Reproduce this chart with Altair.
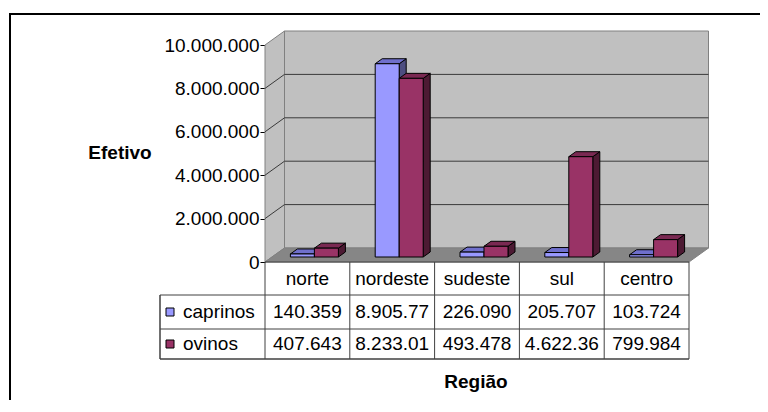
import altair as alt
import pandas as pd

# ---- data ----
regioes = ["norte", "nordeste", "sudeste", "sul", "centro"]
caprinos = [140359, 8905770, 226090, 205707, 103724]
ovinos = [407643, 8233010, 493478, 4622360, 799984]
caprinos_txt = ["140.359", "8.905.77", "226.090", "205.707", "103.724"]
ovinos_txt = ["407.643", "8.233.01", "493.478", "4.622.36", "799.984"]
y_ticks = [0, 2000000, 4000000, 6000000, 8000000, 10000000]
series = ["caprinos", "ovinos"]

# ---- geometry / style ----
FONT = "Liberation Sans"
FS = 19
N = len(regioes)
W, H = 424, 217
YMAX = 10000000
PXX = N / W
PXY = YMAX / H
WDX, WDY = 19.5 * PXX, 14 * PXY     # wall depth
OX, OY = 7 * PXX, 5 * PXY           # bar front-plane offset
BDX, BDY = 7 * PXX, 5 * PXY         # bar depth
BW = 24 * PXX                       # bar width

COLORS = {
    "caprinos": {"front": "#9999ff", "top": "#6f6fcc", "side": "#4d4d80"},
    "ovinos": {"front": "#993366", "top": "#7a2952", "side": "#4d1a33"},
}

xs = alt.Scale(domain=[0, N], nice=False, zero=False)
ys = alt.Scale(domain=[0, YMAX], nice=False, zero=False)
YAXIS = alt.Axis(
    values=y_ticks, labelExpr="replace(format(datum.value, ','), /,/g, '.')",
    tickSize=5, tickColor="black", domainColor="black", domainWidth=1,
    labelFont=FONT, labelFontSize=FS, labelColor="black", labelPadding=1,
    title=None, grid=False)


def X(f):
    return alt.X(f, type="quantitative", scale=xs, axis=None)


def Y(f):
    return alt.Y(f, type="quantitative", scale=ys, axis=YAXIS)


# ---- bars & 3D faces ----
bars, faces = [], []
for si, (s, vals) in enumerate(zip(series, [caprinos, ovinos])):
    for i, (r, v) in enumerate(zip(regioes, vals)):
        L = i + 0.5 + OX - BW + si * BW
        R = L + BW
        B = OY
        T = OY + v
        bars.append(dict(serie=s, regiao=r, x=L, x2=R, y=B, y2=T))
        top = [(L, T), (R, T), (R + BDX, T + BDY), (L + BDX, T + BDY)]
        side = [(R, B), (R + BDX, B + BDY), (R + BDX, T + BDY), (R, T)]
        for face, pts in (("top", top), ("side", side)):
            for k, (px, py) in enumerate(pts):
                faces.append(dict(serie=s, face=face, id=f"{s}-{i}-{face}", k=k, x=px, y=py))
bars_df = pd.DataFrame(bars)
faces_df = pd.DataFrame(faces)

# ---- walls ----
back_df = pd.DataFrame([dict(x=WDX, x2=N + WDX, y=WDY, y2=YMAX + WDY)])
leftwall_df = pd.DataFrame([
    dict(id="lw", k=0, x=0, y=0), dict(id="lw", k=1, x=0, y=YMAX),
    dict(id="lw", k=2, x=WDX, y=YMAX + WDY), dict(id="lw", k=3, x=WDX, y=WDY)])
floor_df = pd.DataFrame([
    dict(id="fl", k=0, x=0, y=0), dict(id="fl", k=1, x=N, y=0),
    dict(id="fl", k=2, x=N + WDX, y=WDY), dict(id="fl", k=3, x=WDX, y=WDY)])
grid_df = pd.DataFrame([dict(v=v) for v in y_ticks[1:-1]])

back = alt.Chart(back_df).mark_rect(fill="#c0c0c0", stroke="#808080", strokeWidth=1).encode(
    x=X("x"), x2="x2", y=Y("y"), y2="y2")

leftwall = alt.Chart(leftwall_df).mark_line(
    fill="#c0c0c0", stroke="#808080", strokeWidth=1, interpolate="linear-closed").encode(
    x=X("x"), y=Y("y"), detail="id:N", order="k:O")
floor = alt.Chart(floor_df).mark_line(
    fill="#868686", stroke="#808080", strokeWidth=1, interpolate="linear-closed").encode(
    x=X("x"), y=Y("y"), detail="id:N", order="k:O")

grid_back = alt.Chart(grid_df).transform_calculate(
    x0=f"{WDX}", x1=f"{N + WDX}", yy=f"datum.v + {WDY}").mark_rule(
    color="#3a3a3a", strokeWidth=1).encode(x=X("x0"), x2="x1", y=Y("yy"))
grid_side = alt.Chart(grid_df).transform_calculate(
    x0="0", x1=f"{WDX}", yy=f"datum.v + {WDY}").mark_rule(
    color="#3a3a3a", strokeWidth=1).encode(x=X("x0"), x2="x1", y=Y("v"), y2="yy")

bar_layers = []
for s in series:
    c = COLORS[s]
    for face in ("side", "top"):
        bar_layers.append(
            alt.Chart(faces_df).transform_filter(
                f"datum.serie == '{s}' && datum.face == '{face}'").mark_line(
                fill=c[face], stroke="black", strokeWidth=1, interpolate="linear-closed",
                strokeJoin="miter").encode(x=X("x"), y=Y("y"), detail="id:N", order="k:O"))
    bar_layers.append(
        alt.Chart(bars_df).transform_filter(f"datum.serie == '{s}'").mark_rect(
            fill=c["front"], stroke="black", strokeWidth=1).encode(
            x=X("x"), x2="x2", y=Y("y"), y2="y2"))

# ---- data table ----
tab_df = pd.DataFrame(dict(regiao=regioes, c=caprinos_txt, o=ovinos_txt,
                           pos=[i + 0.5 for i in range(N)]))
row_hdr, row_c, row_o = 233.5, 267, 299
txt = dict(font=FONT, fontSize=FS, color="black", baseline="middle")
hdr = alt.Chart(tab_df).mark_text(align="center", **txt).encode(
    x=X("pos"), y=alt.value(row_hdr), text="regiao:N")
vc = alt.Chart(tab_df).mark_text(align="center", **txt).encode(
    x=X("pos"), y=alt.value(row_c), text="c:N")
vo = alt.Chart(tab_df).mark_text(align="center", **txt).encode(
    x=X("pos"), y=alt.value(row_o), text="o:N")

one = pd.DataFrame([dict(a=1)])
legend_layers = []
for s, ry in zip(series, [row_c, row_o]):
    legend_layers.append(
        alt.Chart(one).mark_rect(fill=COLORS[s]["front"], stroke="black", strokeWidth=1).encode(
            x=alt.value(-99), x2=alt.value(-91), y=alt.value(ry - 4), y2=alt.value(ry + 4)))
    legend_layers.append(
        alt.Chart(one).mark_text(align="left", text=s, **txt).encode(
            x=alt.value(-82), y=alt.value(ry)))

LC = "#404040"
hlines = [
    alt.Chart(one).mark_rule(color=LC, strokeWidth=1).encode(
        x=alt.value(0), x2=alt.value(W), y=alt.value(217)),
    alt.Chart(one).mark_rule(color=LC, strokeWidth=1).encode(
        x=alt.value(-105), x2=alt.value(W), y=alt.value(250)),
    alt.Chart(one).mark_rule(color=LC, strokeWidth=1).encode(
        x=alt.value(-105), x2=alt.value(W), y=alt.value(284)),
    alt.Chart(one).mark_rule(color=LC, strokeWidth=1.5).encode(
        x=alt.value(-105), x2=alt.value(W), y=alt.value(314)),
    alt.Chart(one).mark_rule(color=LC, strokeWidth=1.5).encode(
        x=alt.value(-105), y=alt.value(250), y2=alt.value(314)),
]
vl_df = pd.DataFrame(dict(b=list(range(N + 1))))
vlines = alt.Chart(vl_df).mark_rule(color=LC, strokeWidth=1).encode(
    x=X("b"), y=alt.value(217), y2=alt.value(314))

ytitle = alt.Chart(one).mark_text(font=FONT, fontSize=FS, fontWeight="bold", color="black",
                                  align="center", baseline="middle", text="Efetivo").encode(
    x=alt.value(-145), y=alt.value(108))
xtitle = alt.Chart(one).mark_text(font=FONT, fontSize=FS, fontWeight="bold", color="black",
                                  align="center", baseline="middle", text="Região").encode(
    x=alt.value(211), y=alt.value(337))

border_left = alt.Chart(one).mark_rule(color="black", strokeWidth=2).encode(
    x=alt.value(-255), y=alt.value(-31), y2=alt.value(420))
border_top = alt.Chart(one).mark_rule(color="black", strokeWidth=2).encode(
    x=alt.value(-256), x2=alt.value(495), y=alt.value(-31))

chart = alt.layer(
    back, leftwall, floor, grid_back, grid_side, *bar_layers,
    *hlines, vlines, hdr, vc, vo, *legend_layers, ytitle, xtitle, border_left, border_top,
).properties(
    width=W, height=H,
    padding={"left": 257, "top": 37, "right": 71, "bottom": 138},
    autosize=alt.AutoSizeParams(type="none"),
    background="white",
).configure_view(stroke=None)

chart.save("out.html", embed_options={"renderer": "svg", "actions": False})
